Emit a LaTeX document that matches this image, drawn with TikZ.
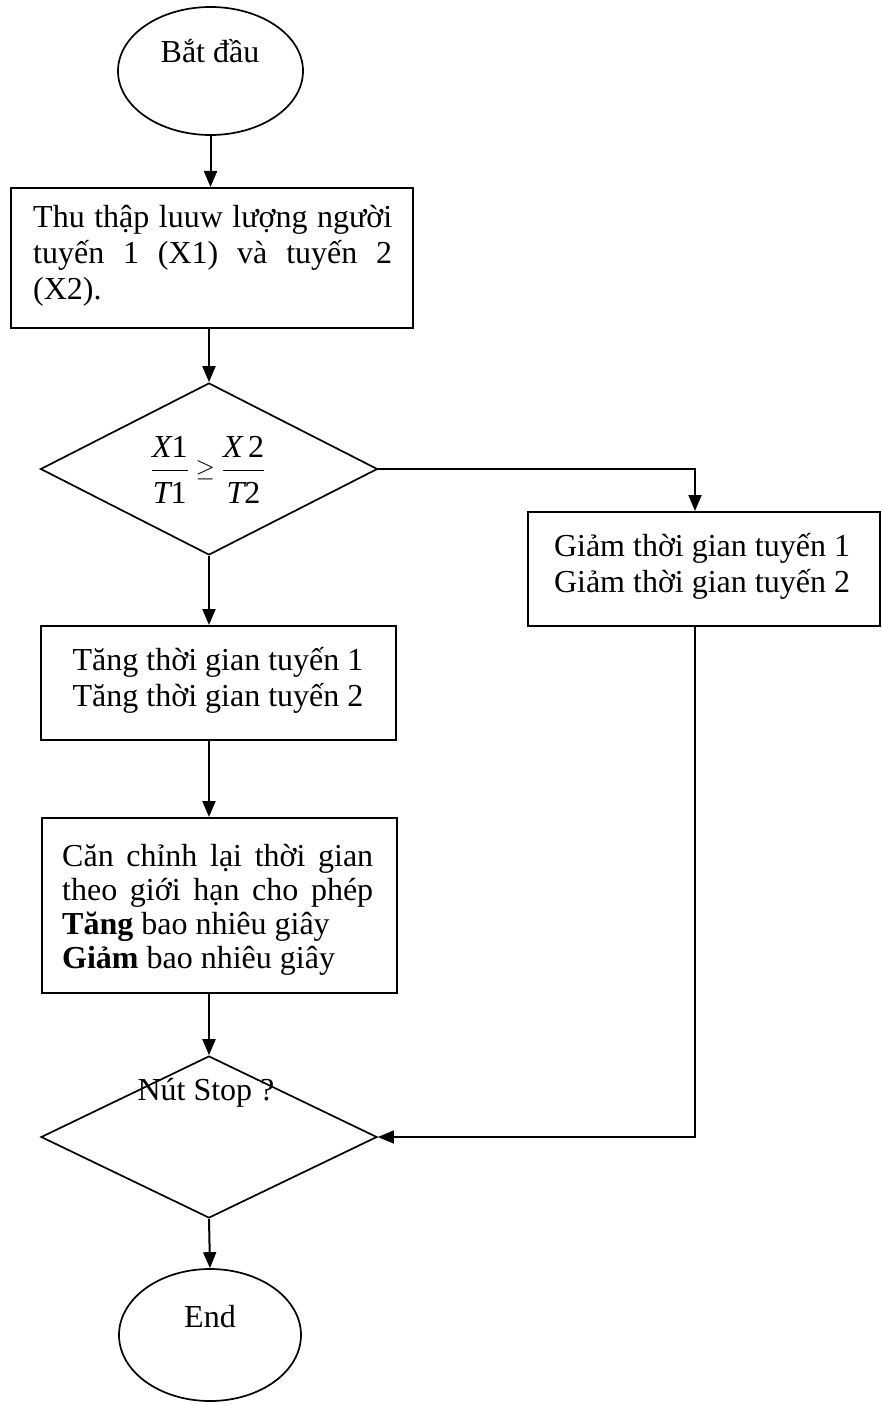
\documentclass[tikz,border=0pt]{standalone}
\usepackage{fontspec}
\usepackage{amsmath}
\setmainfont{Liberation Serif}
\usetikzlibrary{shapes.geometric,arrows.meta}
\tikzset{
  lw/.style={line width=2pt},
  arr/.style={lw,-{Triangle[length=16pt,width=13pt]}},
  thinarr/.style={line width=1.3pt,-{Triangle[length=16pt,width=13pt]}},
  boxnode/.style={draw,lw,rectangle,inner sep=0pt},
  dnode/.style={draw,line width=1.7pt,diamond,inner sep=0pt},
  enode/.style={draw,line width=1.7pt,ellipse,inner sep=0pt},
  txt/.style={font=\fontsize{32}{36}\selectfont,inner sep=0pt}
}
\begin{document}
\begin{tikzpicture}[x=1pt,y=-1pt]
\useasboundingbox (0,0) rectangle (882,1404);

% shapes
\node[enode,minimum width=185pt,minimum height=128pt] (start) at (210.5,71) {};
\node[boxnode,minimum width=402pt,minimum height=140pt] (b1) at (212,258) {};
\node[dnode,minimum width=337pt,minimum height=172pt] (d1) at (209,469) {};
\node[boxnode,minimum width=352pt,minimum height=114pt] (b2) at (704,569) {};
\node[boxnode,minimum width=355pt,minimum height=114pt] (b3) at (218.5,683) {};
\node[boxnode,minimum width=355pt,minimum height=175pt] (b4) at (219.5,905.5) {};
\node[dnode,minimum width=336pt,minimum height=162pt] (d2) at (209,1137) {};
\node[enode,minimum width=182pt,minimum height=132pt] (stop) at (210,1335) {};

% texts
\node[txt,anchor=base] (tstart) at (210,63) {Bắt đầu};
\node[txt,anchor=base west] (t1a) at (33,228) {\makebox[359pt][s]{Thu thập luuw lượng người}};
\node[txt,anchor=base west] (t1b) at (33,264) {\makebox[359pt][s]{tuyến 1 (X1) và tuyến 2}};
\node[txt,anchor=base west] (t1c) at (33,300) {(X2).};
\node[txt] (tfrac) at (208,470) {$\dfrac{\text{\itshape X}\text{1}\rule[-9pt]{0pt}{9pt}}{\text{\itshape T}\text{1}\rule{0pt}{30pt}}\geq\dfrac{\text{\itshape X\,}\text{2}\rule[-9pt]{0pt}{9pt}}{\text{\itshape T}\text{2}\rule{0pt}{30pt}}$};
\node[txt,anchor=base] (t2a) at (702,556) {Giảm thời gian tuyến 1};
\node[txt,anchor=base] (t2b) at (702,592) {Giảm thời gian tuyến 2};
\node[txt,anchor=base] (t3a) at (218,670) {Tăng thời gian tuyến 1};
\node[txt,anchor=base] (t3b) at (218,706) {Tăng thời gian tuyến 2};
\node[txt,anchor=base west] (t4a) at (62,866) {\makebox[311pt][s]{Căn chỉnh lại thời gian}};
\node[txt,anchor=base west] (t4b) at (62,900) {\makebox[311pt][s]{theo giới hạn cho phép}};
\node[txt,anchor=base west] (t4c) at (62,934) {\textbf{Tăng} bao nhiêu giây};
\node[txt,anchor=base west] (t4d) at (62,968) {\textbf{Giảm} bao nhiêu giây};
\node[txt,anchor=base] (td2) at (206,1100) {Nút Stop ?};
\node[txt,anchor=base] (tend) at (210,1327) {End};

% connectors
\coordinate (b2in) at ([xshift=-9pt]b2.north);
\draw[arr] (start.south) -- (start.south |- b1.north);
\draw[arr] (d1.north |- b1.south) -- (d1.north);
\draw[arr] (d1.south) -- (d1.south |- b3.north);
\draw[arr] (d1.east) -| (b2in);
\draw[arr] (d1.south |- b3.south) -- (d1.south |- b4.north);
\draw[arr] (d2.north |- b4.south) -- (d2.north);
\draw[thinarr] (b2in |- b2.south) |- (d2.east);
\draw[arr] (d2.south) -- (stop.north);
\end{tikzpicture}
\end{document}
